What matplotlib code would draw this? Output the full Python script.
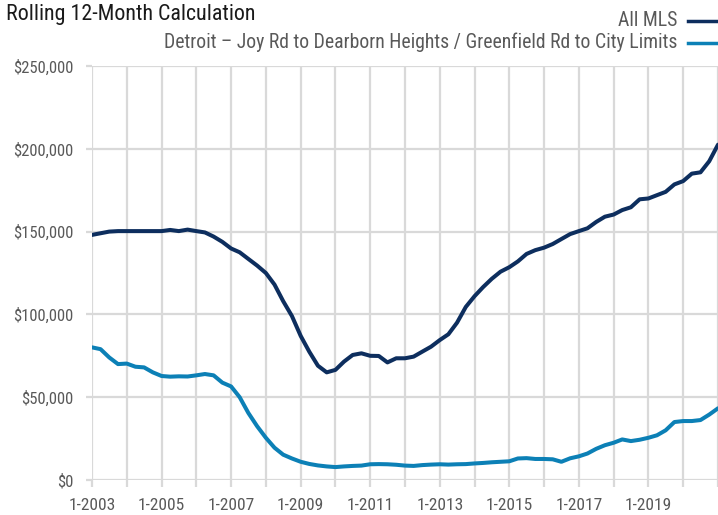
import matplotlib
matplotlib.use("Agg")
import numpy as np
import pandas as pd
import matplotlib.pyplot as plt
import matplotlib.ticker as mticker
import matplotlib.dates as mdates
from matplotlib.lines import Line2D

plt.rcParams['font.family'] = ['Roboto Condensed', 'DejaVu Sans']

# quarterly readings, Jan 2003 .. Jan 2021 (in thousands of dollars)
dates = pd.date_range("2003-01-01", periods=73, freq="QS")

all_mls = [
    148.0, 149.0, 150.0, 150.3, 150.3, 150.3, 150.3, 150.3,
    150.3, 151.0, 150.3, 151.2, 150.3, 149.5, 147.0, 143.8,
    139.8, 137.5, 133.5, 129.5, 125.0, 118.0, 108.0, 99.0,
    87.0, 77.5, 69.0, 65.0, 66.5, 71.5, 75.5, 76.5,
    75.0, 74.9, 71.0, 73.5, 73.5, 74.5, 77.5, 80.5,
    84.5, 88.0, 95.0, 104.5, 111.0, 116.5, 121.5, 125.8,
    128.5, 132.0, 136.5, 138.8, 140.3, 142.5, 145.5, 148.5,
    150.3, 152.0, 155.8, 159.0, 160.3, 163.0, 164.7, 169.5,
    170.0, 172.0, 174.0, 178.5, 180.5, 185.0, 185.8, 192.5,
    202.5,
]

detroit = [
    80.1, 79.0, 74.0, 70.0, 70.3, 68.4, 68.0, 65.0,
    62.8, 62.4, 62.6, 62.5, 63.2, 64.0, 63.2, 58.8,
    56.5, 50.0, 40.5, 32.5, 25.5, 19.5, 15.3, 13.0,
    11.0, 9.7, 8.8, 8.2, 7.8, 8.2, 8.5, 8.7,
    9.5, 9.6, 9.5, 9.2, 8.7, 8.5, 9.0, 9.3,
    9.5, 9.3, 9.5, 9.6, 10.0, 10.3, 10.7, 11.0,
    11.3, 13.0, 13.2, 12.7, 12.7, 12.5, 11.0, 13.1,
    14.3, 16.0, 18.8, 21.0, 22.5, 24.5, 23.5, 24.3,
    25.5, 27.0, 30.0, 35.0, 35.6, 35.6, 36.2, 39.5,
    43.3,
]

labels = ["All MLS", "Detroit – Joy Rd to Dearborn Heights / Greenfield Rd to City Limits"]
colors = ["#0d2e5e", "#0c80b6"]

grid_c = "#d9d9d9"
text_c = "#595959"

W, H = 718, 515
fig = plt.figure(figsize=(W / 100, H / 100), dpi=100)
ax = fig.add_axes([92 / W, 1 - 480 / H, 626 / W, 414 / H])

ax.plot(dates, np.array(all_mls) * 1000, color=colors[0], lw=2.9, solid_capstyle="round")
ax.plot(dates, np.array(detroit) * 1000, color=colors[1], lw=2.9, solid_capstyle="round")

ax.set_xlim(pd.Timestamp("2003-01-01"), pd.Timestamp("2021-01-01"))
ax.set_ylim(0, 250000)


def year_label(v, p):
    yr = mdates.num2date(v).year
    return "1-%d" % yr if yr % 2 == 1 and yr < 2021 else ""


# gridlines every year, labels every 2 years
ax.xaxis.set_major_locator(mdates.YearLocator(1))
ax.xaxis.set_major_formatter(mticker.FuncFormatter(year_label))
ax.yaxis.set_major_locator(mticker.MultipleLocator(50000))
ax.yaxis.set_major_formatter(mticker.FuncFormatter(lambda v, p: "${:,.0f}".format(v)))

ax.grid(True, color=grid_c, lw=1.6)
ax.set_axisbelow(True)
for s in ax.spines.values():
    s.set_visible(False)
ax.tick_params(axis="x", length=5, width=1.6, color=grid_c, labelcolor=text_c, labelsize=12.5, pad=8)
ax.tick_params(axis="y", length=4.5, width=1.6, color=grid_c, labelcolor=text_c, labelsize=12, pad=9)

# title
fig.text(6 / W, 1 - 20 / H, "Rolling 12-Month Calculation", fontsize=15.8,
         color="#1a1a1a", ha="left", va="baseline")

# legend, text left of the line
for i, lab in enumerate(labels):
    yb = 26 + 22 * i
    fig.text(677 / W, 1 - yb / H, lab, fontsize=14.2, color=text_c, ha="right", va="baseline")
    fig.add_artist(Line2D([688 / W, 718 / W], [1 - (yb - 5) / H] * 2, transform=fig.transFigure,
                          color=colors[i], lw=2.5))

fig.savefig("out.png", dpi=100)
